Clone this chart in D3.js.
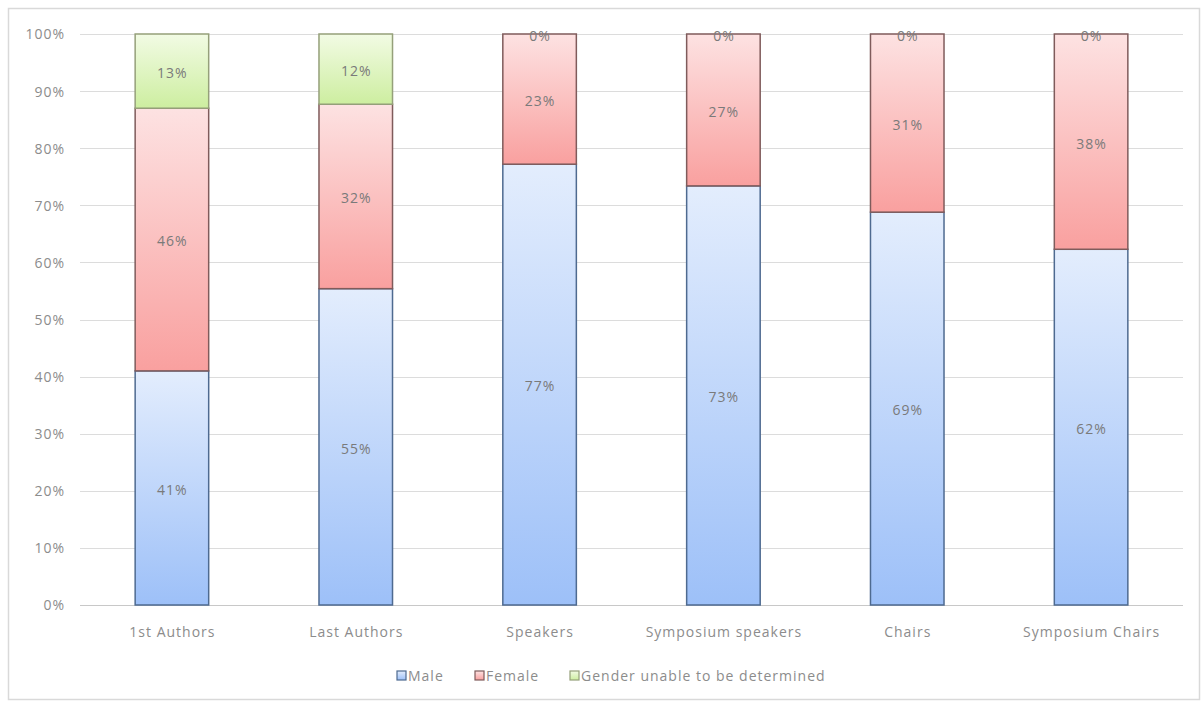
<!DOCTYPE html>
<html>
<head>
<meta charset="utf-8">
<script src="https://cdn.jsdelivr.net/npm/d3@7"></script>
<style>
  html, body { margin: 0; padding: 0; background: #fff; }
  svg { display: block; }
  text { font-family: "Open Sans", "Liberation Sans", sans-serif; letter-spacing: 1px; }
</style>
</head>
<body>
<svg id="chart" width="1203" height="702"></svg>
<script>
const categories = ["1st Authors", "Last Authors", "Speakers", "Symposium speakers", "Chairs", "Symposium Chairs"];
const seriesNames = ["Male", "Female", "Gender unable to be determined"];
const male    = [41.0, 55.4, 77.2, 73.4, 68.8, 62.3];
const female  = [46.0, 32.3, 22.8, 26.6, 31.2, 37.7];
const unknown = [13.0, 12.3, 0, 0, 0, 0];
const yTicks  = [0, 0.1, 0.2, 0.3, 0.4, 0.5, 0.6, 0.7, 0.8, 0.9, 1.0];

const svg = d3.select("#chart");
const plot = { left: 80, right: 1183, top: 34, bottom: 605 };

// outer border
svg.append("rect").attr("x", 8.5).attr("y", 8.5).attr("width", 1191).attr("height", 691)
  .attr("fill", "#fff").attr("stroke", "#d9d9d9").attr("stroke-width", 1.5);

const defs = svg.append("defs");
const grads = [
  { id: "gMale",   top: "#e3edfd", bottom: "#9dc0f8", stroke: "#4e6a90" },
  { id: "gFemale", top: "#fde2e2", bottom: "#f9a09f", stroke: "#7f5b5b" },
  { id: "gUnk",    top: "#f2fbe4", bottom: "#cdeea0", stroke: "#95a07a" }
];
grads.forEach(g => {
  const lg = defs.append("linearGradient").attr("id", g.id)
    .attr("x1", 0).attr("y1", 0).attr("x2", 0).attr("y2", 1);
  lg.append("stop").attr("offset", "0%").attr("stop-color", g.top);
  lg.append("stop").attr("offset", "100%").attr("stop-color", g.bottom);
});

const x = d3.scaleBand().domain(categories).range([plot.left, plot.right])
  .paddingInner(0.6).paddingOuter(0.3);
const y = d3.scaleLinear().domain([0, 1]).range([plot.bottom, plot.top]);

// gridlines
svg.append("g").selectAll("line").data(yTicks).join("line")
  .attr("x1", plot.left).attr("x2", plot.right)
  .attr("y1", d => Math.round(y(d)) + 0.5).attr("y2", d => Math.round(y(d)) + 0.5)
  .attr("stroke", d => d === 0 ? "#c8c8c8" : "#dcdcdc").attr("stroke-width", 1.2);

// y axis labels
const yAxis = d3.axisLeft(y).tickValues(yTicks).tickFormat(d3.format(".0%")).tickSize(0).tickPadding(0);
const yg = svg.append("g").attr("transform", `translate(${plot.left - 15},0)`).call(yAxis);
yg.select(".domain").remove();
yg.selectAll("text").attr("fill", "#8c8c8c").style("font-size", "14px")
  .style("font-family", "'Open Sans', sans-serif").attr("dy", "0.35em");

// stack
const rows = categories.map((c, i) => {
  const tot = male[i] + female[i] + unknown[i];
  return { cat: c, Male: male[i] / tot, Female: female[i] / tot, "Gender unable to be determined": unknown[i] / tot,
           raw: [male[i], female[i], unknown[i]] };
});
const stack = d3.stack().keys(seriesNames);
const series = stack(rows);

const barG = svg.append("g");
series.forEach((s, si) => {
  const g = grads[si];
  barG.append("g").selectAll("rect").data(s).join("rect")
    .attr("x", d => x(d.data.cat))
    .attr("y", d => y(d[1]))
    .attr("width", x.bandwidth())
    .attr("height", d => Math.max(0, y(d[0]) - y(d[1])))
    .attr("fill", `url(#${g.id})`)
    .attr("stroke", g.stroke).attr("stroke-width", 1.5);
});

// data labels
const labelG = svg.append("g");
series.forEach((s, si) => {
  labelG.append("g").selectAll("text").data(s).join("text")
    .attr("x", d => x(d.data.cat) + x.bandwidth() / 2 + 0.5)
    .attr("y", d => (y(d[0]) + y(d[1])) / 2 + (d[1] - d[0] === 0 ? 2 : 2))
    .attr("text-anchor", "middle").attr("dy", "0.35em")
    .attr("fill", "#7a7a7a").style("font-size", "14px")
    .text(d => Math.round(d.data.raw[si]) + "%");
});

// x axis labels
const xAxis = d3.axisBottom(x).tickSize(0).tickPadding(0);
const xg = svg.append("g").attr("transform", `translate(0.5,${plot.bottom + 27})`).call(xAxis);
xg.select(".domain").remove();
xg.selectAll("text").attr("fill", "#8c8c8c").style("font-size", "14px")
  .style("font-family", "'Open Sans', sans-serif").attr("dy", "0.35em");

// legend
const legendX = [397, 475, 570];
const legG = svg.append("g");
seriesNames.forEach((n, i) => {
  const g = grads[i];
  legG.append("rect").attr("x", legendX[i]).attr("y", 671).attr("width", 9).attr("height", 9)
    .attr("fill", `url(#${g.id})`).attr("stroke", g.stroke).attr("stroke-width", 1.2);
  legG.append("text").attr("x", legendX[i] + 11).attr("y", 676).attr("dy", "0.35em")
    .attr("fill", "#8c8c8c").style("font-size", "14px").text(n);
});
</script>
</body>
</html>
